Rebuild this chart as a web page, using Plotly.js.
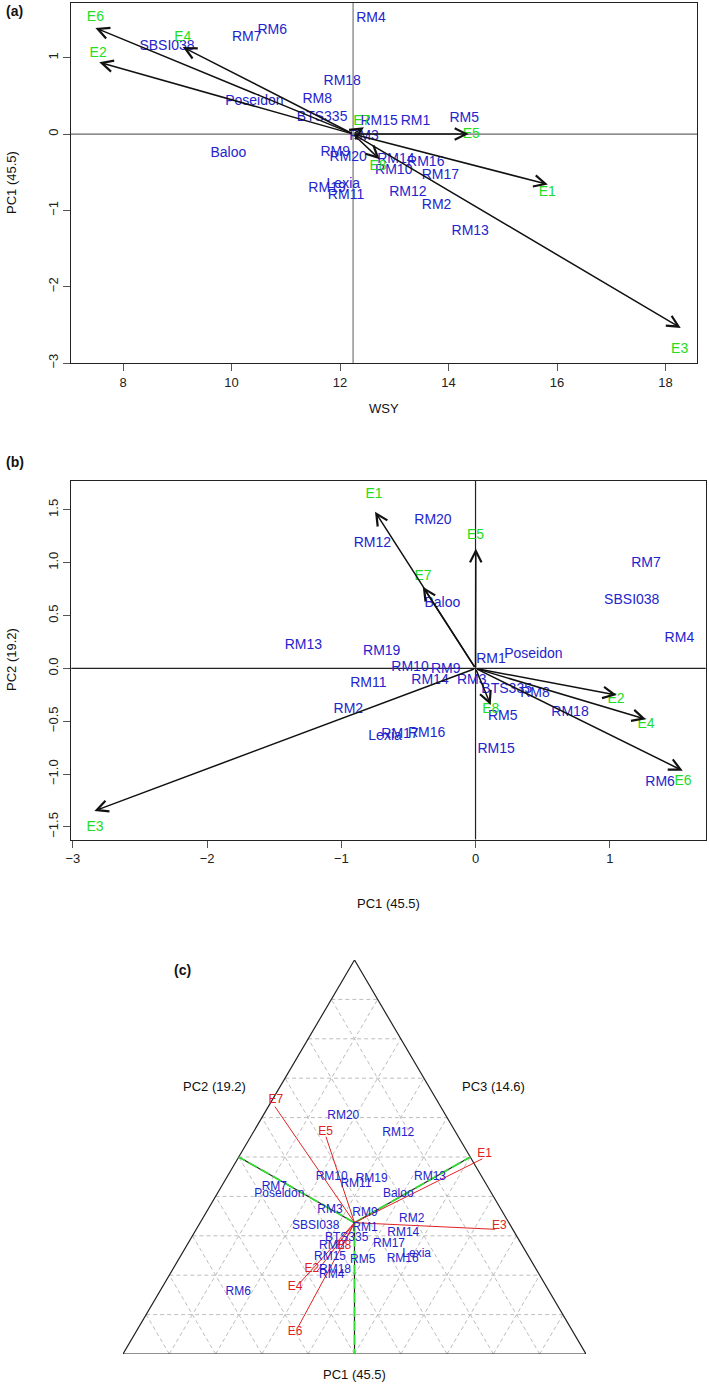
<!DOCTYPE html>
<html><head><meta charset="utf-8">
<script src="https://cdn.plot.ly/plotly-3.0.1.min.js"></script>
<style>html,body{margin:0;padding:0;background:#fff}#chart{width:709px;height:1387px}</style>
</head><body><div id="chart"></div>
<script>
// ---------- shared names ----------
const genotypes = ['Baloo','BTS335','Lexia','Poseidon','SBSI038','RM1','RM2','RM3','RM4','RM5','RM6','RM7','RM8','RM9','RM10','RM11','RM12','RM13','RM14','RM15','RM16','RM17','RM18','RM19','RM20'];
const envs = ['E1','E2','E3','E4','E5','E6','E7','E8'];

// ---------- panel (a): WSY vs PC1 ----------
const genoA_wsy = [9.94,11.67,12.06,10.42,8.81,13.39,13.78,12.44,12.57,14.29,10.75,10.28,11.58,11.91,12.99,12.11,13.25,14.40,13.03,12.72,13.58,13.85,12.04,11.76,12.15];
const genoA_pc1 = [-0.25,0.22,-0.66,0.42,1.15,0.16,-0.94,-0.03,1.51,0.20,1.36,1.26,0.45,-0.24,-0.48,-0.80,-0.77,-1.28,-0.34,0.16,-0.37,-0.54,0.69,-0.71,-0.31];
const envA_tipX = [15.83,7.56,18.28,9.10,14.37,7.49,12.44,12.73];
const envA_tipY = [-0.66,0.94,-2.54,1.14,0.00,1.39,0.09,-0.33];
const envA_labX = [15.82,7.54,18.26,9.10,14.42,7.49,12.40,12.70];
const envA_labY = [-0.76,1.06,-2.82,1.27,0.00,1.53,0.16,-0.42];
const meanWSY = 12.24;
const xTicksA = [8,10,12,14,16,18];
const yTicksA = [-3,-2,-1,0,1];

// ---------- panel (b): PC1 vs PC2 ----------
const genoB_pc1 = [-0.247,0.232,-0.674,0.431,1.164,0.115,-0.948,-0.028,1.519,0.203,1.375,1.270,0.443,-0.222,-0.488,-0.799,-0.769,-1.283,-0.339,0.153,-0.364,-0.563,0.704,-0.699,-0.317];
const genoB_pc2 = [0.616,-0.198,-0.640,0.127,0.641,0.086,-0.387,-0.116,0.285,-0.457,-1.081,0.994,-0.242,-0.015,0.010,-0.141,1.183,0.215,-0.110,-0.772,-0.614,-0.630,-0.419,0.158,1.397];
const envB_tipX = [-0.749,1.052,-2.84,1.270,0.002,1.544,-0.393,0.113];
const envB_tipY = [1.483,-0.252,-1.349,-0.482,1.135,-0.968,0.773,-0.346];
const envB_labX = [-0.756,1.047,-2.835,1.270,0.000,1.546,-0.391,0.113];
const envB_labY = [1.65,-0.29,-1.51,-0.535,1.255,-1.075,0.865,-0.385];
const xTicksB = [-3,-2,-1,0,1];
const yTicksB = [-1.5,-1.0,-0.5,0.0,0.5,1.0,1.5];

// ---------- panel (c): triangle (PC1, PC2, PC3) ----------
const genoC_u = [5.946,4.832,6.343,3.376,4.162,5.227,6.235,4.471,4.508,5.177,2.490,3.268,4.508,5.227,4.508,5.033,5.946,6.631,6.054,4.471,6.041,5.745,4.579,5.372,4.758];
const genoC_v = [3.510,2.556,2.198,3.516,2.813,2.776,2.960,3.165,1.736,2.066,1.369,3.677,2.374,3.105,3.884,3.736,4.851,3.897,2.653,2.138,2.081,2.411,1.846,3.840,5.231];
const envC_endU = [7.76,4.184,8.035,3.823,4.384,3.786,3.283,4.752];
const envC_endV = [4.29,1.809,2.741,1.567,4.776,0.600,5.435,2.396];
const envC_labU = [7.81,4.076,8.128,3.715,4.378,3.715,3.30,4.77];
const envC_labV = [4.40,1.862,2.813,1.479,4.886,0.490,5.58,2.38];
const triSide = 10;
const axisTitles = ['PC1 (45.5)','PC2 (19.2)','PC3 (14.6)'];

// ---------- styles ----------
const BLUE = '#2424cc', GREEN = '#22dd22', RED = '#e02222';
const FONT = 'Liberation Sans, Arial, Helvetica, sans-serif';

const traces = [];
const shapes = [];
const annotations = [];

// Panel (a)
shapes.push({type:'line', xref:'x', yref:'y domain', x0:meanWSY, x1:meanWSY, y0:0, y1:1, line:{color:'#777', width:1.2}, layer:'below'});
shapes.push({type:'line', xref:'x domain', yref:'y', x0:0, x1:1, y0:0, y1:0, line:{color:'#666', width:1.2}, layer:'below'});
traces.push({type:'scatter', mode:'text', x:genoA_wsy, y:genoA_pc1, text:genotypes, xaxis:'x', yaxis:'y',
  textfont:{color:BLUE, size:14, family:FONT}, hoverinfo:'skip'});
traces.push({type:'scatter', mode:'text', x:envA_labX, y:envA_labY, text:envs, xaxis:'x', yaxis:'y',
  textfont:{color:GREEN, size:14, family:FONT}, hoverinfo:'skip'});
envs.forEach((e,i)=>{
  annotations.push({xref:'x', yref:'y', axref:'x', ayref:'y', x:envA_tipX[i], y:envA_tipY[i], ax:meanWSY, ay:0,
    text:'', showarrow:true, arrowhead:5, arrowsize:1.5, arrowwidth:1.5, arrowcolor:'#111', standoff:0, startstandoff:0});
});

// Panel (b)
shapes.push({type:'line', xref:'x2', yref:'y2 domain', x0:0, x1:0, y0:0, y1:1, line:{color:'#222', width:1.2}, layer:'below'});
shapes.push({type:'line', xref:'x2 domain', yref:'y2', x0:0, x1:1, y0:0, y1:0, line:{color:'#222', width:1.2}, layer:'below'});
traces.push({type:'scatter', mode:'text', x:genoB_pc1, y:genoB_pc2, text:genotypes, xaxis:'x2', yaxis:'y2',
  textfont:{color:BLUE, size:14, family:FONT}, hoverinfo:'skip'});
traces.push({type:'scatter', mode:'text', x:envB_labX, y:envB_labY, text:envs, xaxis:'x2', yaxis:'y2',
  textfont:{color:GREEN, size:14, family:FONT}, hoverinfo:'skip'});
envs.forEach((e,i)=>{
  annotations.push({xref:'x2', yref:'y2', axref:'x2', ayref:'y2', x:envB_tipX[i], y:envB_tipY[i], ax:0, ay:0,
    text:'', showarrow:true, arrowhead:5, arrowsize:1.5, arrowwidth:1.5, arrowcolor:'#111', standoff:0, startstandoff:0});
});

// Panel (c)
const H = triSide*Math.sqrt(3)/2;
for (let k=1;k<=9;k++){
  const t = k/10;
  const v = H*t;
  shapes.push({type:'line', xref:'x3', yref:'y3', x0:v/Math.sqrt(3), y0:v, x1:triSide - v/Math.sqrt(3), y1:v, line:{color:'#bdbdbd', width:1, dash:'4px,3px'}, layer:'below'});
  const b = triSide*t;
  shapes.push({type:'line', xref:'x3', yref:'y3', x0:b, y0:0, x1:b+(triSide-b)/2, y1:(triSide-b)*Math.sqrt(3)/2, line:{color:'#bdbdbd', width:1, dash:'4px,3px'}, layer:'below'});
  shapes.push({type:'line', xref:'x3', yref:'y3', x0:b, y0:0, x1:b/2, y1:b*Math.sqrt(3)/2, line:{color:'#bdbdbd', width:1, dash:'4px,3px'}, layer:'below'});
}
traces.push({type:'scatter', mode:'lines', x:[0,triSide,triSide/2,0], y:[0,0,H,0], xaxis:'x3', yaxis:'y3',
  line:{color:'#222', width:1.2}, hoverinfo:'skip'});
const cu = triSide/2, cv = H/3;
const mids = [[triSide/2,0],[triSide/4,H/2],[3*triSide/4,H/2]];
const axX = [], axY = [];
mids.forEach(m=>{ axX.push(cu, m[0], null); axY.push(cv, m[1], null); });
traces.push({type:'scatter', mode:'lines', x:axX, y:axY, xaxis:'x3', yaxis:'y3', line:{color:'#222', width:1.2}, hoverinfo:'skip'});
traces.push({type:'scatter', mode:'lines', x:axX, y:axY, xaxis:'x3', yaxis:'y3', line:{color:'#33dd33', width:1.8, dash:'10px,4px'}, hoverinfo:'skip'});
const rX = [], rY = [];
envs.forEach((e,i)=>{ rX.push(cu, envC_endU[i], null); rY.push(cv, envC_endV[i], null); });
traces.push({type:'scatter', mode:'lines', x:rX, y:rY, xaxis:'x3', yaxis:'y3', line:{color:RED, width:1}, hoverinfo:'skip'});
traces.push({type:'scatter', mode:'text', x:genoC_u, y:genoC_v, text:genotypes, xaxis:'x3', yaxis:'y3',
  textfont:{color:BLUE, size:12, family:FONT}, hoverinfo:'skip', cliponaxis:false});
traces.push({type:'scatter', mode:'text', x:envC_labU, y:envC_labV, text:envs, xaxis:'x3', yaxis:'y3',
  textfont:{color:RED, size:12, family:FONT}, hoverinfo:'skip', cliponaxis:false});

// titles & panel letters (paper coordinates from pixel positions)
const W = 709, HH = 1387;
const px = (x)=>x/W, py = (y)=>1-y/HH;
function ann(text, x, y, opts){
  annotations.push(Object.assign({xref:'paper', yref:'paper', x:px(x), y:py(y), text:text, showarrow:false,
    xanchor:'center', yanchor:'middle', font:{size:13, color:'#111', family:FONT}}, opts||{}));
}
ann('<b>(a)</b>', 15, 11, {font:{size:14, color:'#111', family:FONT}});
ann('<b>(b)</b>', 15, 462, {font:{size:14, color:'#111', family:FONT}});
ann('<b>(c)</b>', 182, 970, {font:{size:14, color:'#111', family:FONT}});
ann('PC1 (45.5)', 11, 183, {textangle:-90});
ann('WSY', 384, 409);
ann('PC2 (19.2)', 11, 660, {textangle:-90});
ann('PC1 (45.5)', 388.5, 903);
ann(axisTitles[0], 354, 1374);
ann(axisTitles[1], 215, 1086);
ann(axisTitles[2], 493, 1086);

const axBase = {showgrid:false, zeroline:false, showline:true, linecolor:'#222', linewidth:1.2, mirror:true,
  ticks:'outside', ticklen:7, tickcolor:'#555', tickwidth:1, tickfont:{size:13, color:'#222', family:FONT}};

const layout = {
  width:W, height:HH, margin:{l:0,r:0,t:0,b:0}, paper_bgcolor:'#fff', plot_bgcolor:'#fff', showlegend:false,
  font:{family:FONT},
  xaxis: Object.assign({}, axBase, {domain:[71/W, 697/W], range:[7.04,18.58], tickvals:xTicksA, anchor:'y'}),
  yaxis: Object.assign({}, axBase, {domain:[py(363), py(3)], range:[-3.0,1.717], tickvals:yTicksA, tickangle:-90, anchor:'x'}),
  xaxis2: Object.assign({}, axBase, {domain:[71.3/W, 705.7/W], range:[-3.012,1.715], tickvals:xTicksB, anchor:'y2'}),
  yaxis2: Object.assign({}, axBase, {domain:[py(839.5), py(480.7)], range:[-1.619,1.776], tickvals:yTicksB, tickformat:'.1f', tickangle:-90, anchor:'x2'}),
  xaxis3: {domain:[123/W, 586/W], range:[0,triSide], visible:false, anchor:'y3', fixedrange:true},
  yaxis3: {domain:[py(1354), py(960)], range:[0,H], visible:false, anchor:'x3', fixedrange:true},
  shapes: shapes,
  annotations: annotations
};
Plotly.newPlot('chart', traces, layout, {staticPlot:true, displayModeBar:false});
</script></body></html>
